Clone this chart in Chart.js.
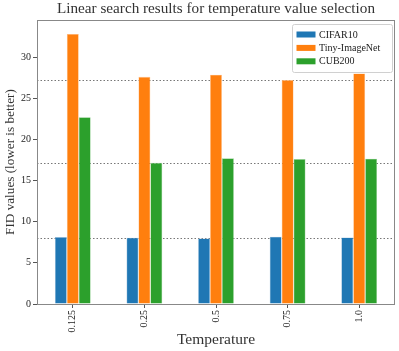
<!DOCTYPE html>
<html>
<head>
<meta charset="utf-8">
<script src="https://cdn.jsdelivr.net/npm/chart.js@4"></script>
<style>
  body { margin: 0; background: #fff; }
  #wrap { width: 399px; height: 351px; }
</style>
</head>
<body>
<div id="wrap"><canvas id="chart"></canvas></div>
<script>
// Data
const temperatures = ['0.125', '0.25', '0.5', '0.75', '1.0'];
const cifar10 = [8.13, 8.05, 7.97, 8.17, 8.09];
const tinyImageNet = [32.8, 27.6, 27.85, 27.2, 28.0];
const cub200 = [22.7, 17.15, 17.7, 17.6, 17.65];
const yTicks = [0, 5, 10, 15, 20, 25, 30];
const chartTitle = 'Linear search results for temperature value selection';

const serif = '"Liberation Serif", "DejaVu Serif", serif';

// Title over the plot area, frame, dotted minimum lines and legend box (matplotlib look)
const decorations = {
    id: 'decorations',
    beforeDatasetsDraw(chart) {
        let ctx = chart.ctx, area = chart.chartArea, y = chart.scales.y;
        ctx.save();
        ctx.strokeStyle = '#777';
        ctx.lineWidth = 1;
        ctx.setLineDash([1.5, 2]);
        chart.data.datasets.forEach(ds => {
            let py = Math.round(y.getPixelForValue(Math.min(...ds.data))) + 0.5;
            ctx.beginPath();
            ctx.moveTo(area.left, py);
            ctx.lineTo(area.right, py);
            ctx.stroke();
        });
        ctx.restore();
    },
    afterDraw(chart) {
        let ctx = chart.ctx, area = chart.chartArea;
        ctx.save();
        // title, centred on the axes
        ctx.font = '15.2px ' + serif;
        ctx.fillStyle = '#333';
        ctx.textAlign = 'center';
        ctx.textBaseline = 'middle';
        ctx.fillText(chartTitle, (area.left + area.right) / 2, 9.5);

        ctx.strokeStyle = '#888';
        ctx.lineWidth = 1;
        ctx.strokeRect(Math.round(area.left) + 0.5, Math.round(area.top) + 0.5,
            Math.round(area.right - area.left) - 1, Math.round(area.bottom - area.top));

        // legend in the upper right corner
        let bx = area.right - 103, by = area.top + 4, bw = 100, bh = 48;
        ctx.fillStyle = 'rgba(255,255,255,0.85)';
        ctx.strokeStyle = '#d0d0d0';
        ctx.beginPath();
        ctx.roundRect(bx + 0.5, by + 0.5, bw, bh, 2);
        ctx.fill();
        ctx.stroke();
        ctx.font = '10px ' + serif;
        ctx.textAlign = 'left';
        chart.data.datasets.forEach((ds, i) => {
            let cy = by + 10.5 + i * 13.4;
            ctx.fillStyle = ds.backgroundColor;
            ctx.fillRect(bx + 4.5, cy - 3, 19, 6);
            ctx.fillStyle = '#222';
            ctx.fillText(ds.label, bx + 27, cy + 0.5);
        });
        ctx.restore();
    }
};

new Chart(document.getElementById('chart'), {
    type: 'bar',
    data: {
        labels: temperatures,
        datasets: [
            { label: 'CIFAR10', data: cifar10, backgroundColor: '#1f77b4', borderColor: '#8fb8d8' },
            { label: 'Tiny-ImageNet', data: tinyImageNet, backgroundColor: '#ff7f0e', borderColor: '#ffbf88' },
            { label: 'CUB200', data: cub200, backgroundColor: '#2ca02c', borderColor: '#95cf95' }
        ]
    },
    options: {
        responsive: true,
        maintainAspectRatio: false,
        animation: false,
        devicePixelRatio: 1,
        layout: { padding: { left: 0, right: 4, top: 20, bottom: 0 } },
        datasets: {
            bar: { categoryPercentage: 0.5, barPercentage: 1.0, borderWidth: 0.6 }
        },
        plugins: {
            legend: { display: false },
            tooltip: { enabled: false },
            title: { display: false }
        },
        scales: {
            x: {
                offset: true,
                grid: { display: true, drawOnChartArea: false, offset: false, tickLength: 4, color: '#555' },
                border: { display: false },
                ticks: { minRotation: 90, maxRotation: 90, color: '#222', padding: 2,
                    font: { family: serif, size: 10 } },
                title: { display: true, text: 'Temperature', color: '#333',
                    font: { family: serif, size: 15.5 }, padding: { top: 4, bottom: 2 } },
                afterFit(scale) { scale.height = 47; }
            },
            y: {
                min: 0,
                max: 34.5,
                grid: { display: true, drawOnChartArea: false, tickLength: 4, color: '#555' },
                border: { display: false },
                ticks: { stepSize: 5, color: '#222', padding: 2,
                    font: { family: serif, size: 10 } },
                afterBuildTicks(scale) {
                    scale.ticks = yTicks.map(v => ({ value: v }));
                },
                title: { display: true, text: 'FID values (lower is better)', color: '#333',
                    font: { family: serif, size: 13.2 }, padding: { top: 3, bottom: 2 } },
                afterFit(scale) { scale.width = 37; }
            }
        }
    },
    plugins: [decorations]
});
</script>
</body>
</html>
